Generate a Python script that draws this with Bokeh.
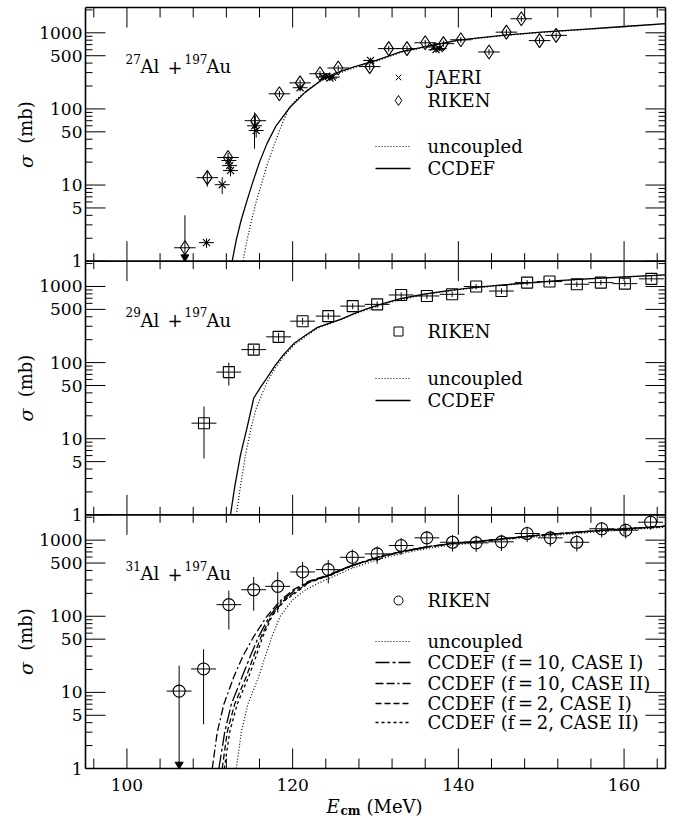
import math
from bokeh.plotting import figure
from bokeh.models import Range1d, LogAxis, LinearAxis, FixedTicker, Label, LogScale
from bokeh.embed import file_html
from bokeh.resources import INLINE

# ---------------- axes / ticks ----------------
e_min, e_max = 95, 165
sig_min, sig_max = 1, 2150
x_major = [100, 120, 140, 160]
x_minor = [96, 104, 108, 112, 116, 124, 128, 132, 136, 144, 148, 152, 156, 164]
y_major = [1, 5, 10, 50, 100, 500, 1000]
y_labels = ["1", "5", "10", "50", "100", "500", "1000"]
y_minor = [2, 3, 4, 6, 7, 8, 9, 20, 30, 40, 60, 70, 80, 90,
           200, 300, 400, 600, 700, 800, 900, 2000]

# ---------------- panel 1 : 27Al + 197Au ----------------
p1_jaeri_e = [109.6, 111.5, 112.3, 112.4, 112.5, 115.4, 115.6, 120.9, 123.7, 124.1, 124.5, 124.8, 129.4, 137.0, 137.3, 137.7]
p1_jaeri_s = [1.75, 10.1, 21, 18, 15.5, 60, 52, 190, 262, 270, 255, 262, 433, 650, 600, 620]
p1_jaeri_ds = [0.25, 2.5, 3, 3, 2.5, 30, 10, 20, 20, 20, 20, 20, 40, 50, 50, 50]
p1_jaeri_de = [0.9] * 16

p1_riken_e = [107.0, 109.7, 112.2, 115.5, 118.4, 120.9, 123.3, 125.5, 129.3, 131.6, 133.8, 136.0, 138.2, 140.3, 143.7, 145.8, 147.6, 149.8, 151.8]
p1_riken_s = [1.5, 12.5, 23, 70, 158, 220, 290, 345, 360, 620, 620, 740, 720, 810, 560, 1020, 1530, 790, 925]
p1_riken_ds = [2.5, 3.0, 3.5, 12, 15, 22, 25, 30, 35, 55, 55, 65, 65, 70, 50, 90, 130, 70, 80]
p1_riken_de = [1.3] * 19
p1_riken_lim = [True] + [False] * 18

p1_unc_e = [114.0, 114.5, 115.0, 115.5, 116.2, 116.9, 117.6, 118.5, 119.5, 120.5, 122.0, 123.5, 125.0, 127.5, 130.0, 133.0, 136.6, 140.0, 145.0, 150.0, 155.0, 160.0, 165.0]
p1_unc_s = [1.0, 1.9, 3.3, 5.5, 10, 18, 30, 55, 100, 135, 185, 235, 280, 350, 420, 550, 670, 790, 910, 1010, 1100, 1200, 1310]
p1_cc_e = [112.7, 113.2, 113.8, 114.5, 115.2, 116.0, 116.9, 118.0, 119.7, 121.5, 123.4, 125.0, 127.5, 130.0, 133.0, 136.6, 140.0, 145.0, 150.0, 155.0, 160.0, 165.0]
p1_cc_s = [1.0, 1.9, 3.5, 6.3, 11, 20, 35, 60, 106, 165, 237, 290, 360, 430, 560, 680, 800, 920, 1020, 1110, 1210, 1320]

# ---------------- panel 2 : 29Al + 197Au ----------------
p2_riken_e = [109.3, 112.3, 115.3, 118.3, 121.2, 124.3, 127.25, 130.2, 133.1, 136.2, 139.25, 142.15, 145.2, 148.3, 151.0, 154.3, 157.2, 160.1, 163.3]
p2_riken_s = [16, 75, 148, 218, 350, 408, 552, 582, 773, 750, 789, 997, 871, 1124, 1161, 1070, 1124, 1090, 1260]
p2_riken_ds = [10.5, 25, 20, 28, 35, 40, 50, 55, 65, 65, 65, 80, 75, 90, 95, 90, 90, 90, 105]
p2_riken_de = [1.5] * 19

p2_unc_e = [113.2, 113.6, 114.3, 115.0, 115.6, 116.1, 116.9, 117.9, 118.9, 120.2, 121.7, 123.0, 124.55, 127.4, 131.0, 136.0, 141.5, 148.7, 156.0, 164.8]
p2_unc_s = [1.0, 2.0, 6.1, 14, 25, 34, 55, 85, 120, 172, 226, 282, 326, 432, 590, 790, 950, 1110, 1260, 1410]
p2_cc_e = [112.5, 113.0, 113.7, 114.5, 115.3, 116.1, 116.9, 117.9, 118.9, 120.2, 121.7, 123.0, 124.55, 125.8, 127.4, 129.0, 131.0, 133.0, 136.0, 139.0, 141.5, 145.0, 148.7, 152.0, 156.0, 160.0, 165.0]
p2_cc_s = [1.0, 2.3, 6.1, 14, 34, 47, 63, 92, 127, 180, 234, 290, 333, 369, 440, 510, 600, 690, 800, 890, 960, 1040, 1120, 1190, 1270, 1340, 1420]

# ---------------- panel 3 : 31Al + 197Au ----------------
p3_riken_e = [106.3, 109.25, 112.3, 115.3, 118.2, 121.2, 124.3, 127.2, 130.2, 133.1, 136.2, 139.3, 142.15, 145.2, 148.3, 151.1, 154.3, 157.3, 160.2, 163.2]
p3_riken_s = [10.4, 20.3, 142, 223, 247, 382, 410, 595, 660, 850, 1072, 938, 921, 950, 1222, 1072, 938, 1410, 1350, 1720]
p3_riken_ds = [12, 16.5, 75, 105, 135, 135, 140, 160, 170, 210, 250, 230, 220, 230, 280, 250, 230, 320, 300, 350]
p3_riken_de = [1.5] * 20
p3_riken_lim = [True] + [False] * 19

p3_unc_e = [113.2, 113.8, 114.6, 115.9, 116.7, 117.5, 118.5, 120.0, 121.5, 123.0, 124.55, 127.0, 130.6, 133.5, 136.6, 139.5, 142.7, 146.0, 150.0, 155.0, 160.0, 165.0]
p3_unc_s = [1.0, 3.0, 7.0, 16, 30, 54, 100, 165, 220, 270, 320, 420, 570, 680, 790, 870, 930, 1020, 1120, 1240, 1360, 1480]
p3_f10a_e = [111.1, 111.8, 112.6, 113.9, 114.9, 115.9, 117.2, 118.7, 120.3, 122.0, 124.55, 127.0, 130.6, 133.5, 136.6, 139.5, 142.7, 146.0, 150.0, 155.0, 160.0, 165.0]
p3_f10a_s = [1.0, 3.0, 7.0, 16, 30, 54, 100, 160, 222, 285, 352, 460, 610, 720, 830, 910, 970, 1060, 1170, 1290, 1410, 1525]
p3_f10b_e = [110.3, 110.9, 111.7, 112.9, 114.0, 115.3, 116.9, 118.5, 120.1, 122.0, 124.55, 127.0, 130.6, 133.5, 136.6, 139.5, 142.7, 146.0, 150.0, 155.0, 160.0, 165.0]
p3_f10b_s = [1.0, 3.0, 7.0, 16, 30, 54, 100, 160, 224, 290, 356, 462, 612, 722, 832, 912, 972, 1062, 1172, 1292, 1412, 1527]
p3_f2a_e = [111.5, 112.1, 113.0, 114.4, 115.3, 116.2, 117.4, 118.9, 120.5, 122.0, 124.55, 127.0, 130.6, 133.5, 136.6, 139.5, 142.7, 146.0, 150.0, 155.0, 160.0, 165.0]
p3_f2a_s = [1.0, 3.0, 7.0, 16, 30, 54, 100, 160, 215, 280, 348, 455, 605, 715, 825, 905, 965, 1055, 1165, 1285, 1405, 1520]
p3_f2b_e = [111.75, 112.4, 113.3, 114.7, 115.6, 116.4, 117.5, 119.0, 120.6, 122.0, 124.55, 127.0, 130.6, 133.5, 136.6, 139.5, 142.7, 146.0, 150.0, 155.0, 160.0, 165.0]
p3_f2b_s = [1.0, 3.0, 7.0, 16, 30, 54, 100, 160, 212, 278, 345, 452, 602, 712, 822, 902, 962, 1052, 1162, 1282, 1402, 1517]

# ---------------- layout ----------------
FONT = "DejaVu Serif"
F = float(sig_max)
LOGF = math.log10(F)
W, H = 679, 825
FL, FR, FT, FB = 85, 665, 7, 768   # data box in page pixels


def xd(px):
    return e_min + (px - FL) * (e_max - e_min) / (FR - FL)


def yd(py):
    return 10 ** ((FB - py) * 3 * LOGF / (FB - FT))


def dx(npx):          # npx pixels along x, in MeV
    return npx * (e_max - e_min) / (FR - FL)


def ry(npx):          # npx pixels along y, as a factor on the log scale
    return 10 ** (npx * 3 * LOGF / (FB - FT))


p = figure(width=W, height=H, x_range=Range1d(xd(0), xd(W)), y_range=Range1d(yd(H), yd(0)),
           y_axis_type="log", x_axis_location=None, y_axis_location=None,
           output_backend="svg", toolbar_location=None, min_border=0, outline_line_color=None)
p.extra_y_ranges = {"p1": Range1d(yd(H) / F ** 2, yd(0) / F ** 2), "p2": Range1d(yd(H) / F, yd(0) / F)}
p.extra_y_scales = {"p1": LogScale(), "p2": LogScale()}
p.xgrid.visible = False
p.ygrid.visible = False

facs = [1.0, F, F ** 2]                 # panel 3, 2, 1 on the shared log scale
yt = [float(v) * f for f in facs for v in y_major]
ym = [float(v) * f for f in facs for v in y_minor]
yover = {float(v) * f: lab for f in facs for v, lab in zip(y_major, y_labels)}
xt = [float(v) for v in x_major]
xm = [float(v) for v in x_minor]


def label_axis(ax, standoff):
    ax.axis_line_color = None
    ax.major_tick_in = 0
    ax.major_tick_out = 0
    ax.minor_tick_in = 0
    ax.minor_tick_out = 0
    ax.major_label_text_font = FONT
    ax.major_label_text_font_size = "17px"
    ax.major_label_text_color = "black"
    ax.major_label_standoff = standoff


yl = LogAxis(ticker=FixedTicker(ticks=list(yt)), fixed_location=e_min, bounds=(sig_min, F ** 3),
             major_label_overrides=yover)
label_axis(yl, 3)
p.add_layout(yl, "left")

xb = LinearAxis(ticker=FixedTicker(ticks=list(xt)), fixed_location=sig_min, bounds=(e_min, e_max))
label_axis(xb, 10)
p.add_layout(xb, "below")

# ---------------- frame box, panel boundaries, inward ticks ----------------
box_y = [float(sig_min), F, F ** 2, F ** 3]
p.segment(x0=[float(e_min)] * 4, x1=[float(e_max)] * 4, y0=box_y, y1=box_y,
          line_color="black", line_width=1.6)
p.segment(x0=[float(e_min), float(e_max)], x1=[float(e_min), float(e_max)], y0=[float(sig_min)] * 2,
          y1=[F ** 3] * 2, line_color="black", line_width=1.6)


def ticks(xs, ys, length, angle):
    p.ray(x=list(xs), y=list(ys), length=length, length_units="screen", angle=angle,
          line_color="black", line_width=1)


ticks([float(e_min)] * len(yt), yt, 20, 0.0)
ticks([float(e_min)] * len(ym), ym, 7, 0.0)
ticks([float(e_max)] * len(yt), yt, 20, math.pi)
ticks([float(e_max)] * len(ym), ym, 7, math.pi)
ticks(xt, [float(sig_min)] * len(xt), 20, math.pi / 2)
ticks(xm, [float(sig_min)] * len(xm), 10, math.pi / 2)
ticks(xt, [F ** 3] * len(xt), 20, -math.pi / 2)
ticks(xm, [F ** 3] * len(xm), 10, -math.pi / 2)
for loc in [F, F ** 2]:
    ticks(xt, [loc] * len(xt), 20, math.pi / 2)
    ticks(xt, [loc] * len(xt), 20, -math.pi / 2)
    ticks(xm, [loc] * len(xm), 8, math.pi / 2)
    ticks(xm, [loc] * len(xm), 8, -math.pi / 2)


# ---------------- drawing helpers ----------------
def errbars(e, s, ds, de, rname, lim=None):
    lo = [max(si - di, sig_min) for si, di in zip(s, ds)]
    hi = [si + di for si, di in zip(s, ds)]
    p.segment(x0=[ei - d for ei, d in zip(e, de)], x1=[ei + d for ei, d in zip(e, de)], y0=list(s), y1=list(s),
              y_range_name=rname, line_color="black", line_width=1)
    p.segment(x0=list(e), x1=list(e), y0=lo, y1=hi, y_range_name=rname, line_color="black", line_width=1)
    if lim is not None:
        le = [ei for ei, f in zip(e, lim) if f]
        if le:
            # arrow head of an upper limit, resting on the panel floor
            p.scatter(le, [sig_min * ry(4)] * len(le), marker="inverted_triangle", size=8,
                      fill_color="black", line_color="black", y_range_name=rname)


def curve(e, s, rname, dash="solid", width=1.3):
    p.line(e, s, y_range_name=rname, line_color="black", line_width=width, line_dash=dash)


DASH = {"unc": "1 2", "cc": "solid", "f10a": "14 3 3 3", "f10b": "8 3 8 3 2 3",
        "f2a": "6 3", "f2b": "3 3"}

# panel 1
curve(p1_unc_e, p1_unc_s, "p1", DASH["unc"], 1.2)
curve(p1_cc_e, p1_cc_s, "p1")
errbars(p1_jaeri_e, p1_jaeri_s, p1_jaeri_ds, p1_jaeri_de, "p1")
p.scatter(p1_jaeri_e, p1_jaeri_s, marker="x", size=10, line_color="black", line_width=1.1, y_range_name="p1")
errbars(p1_riken_e, p1_riken_s, p1_riken_ds, p1_riken_de, "p1", p1_riken_lim)
p.scatter(p1_riken_e, p1_riken_s, marker="diamond", size=14, fill_color=None, line_color="black",
          line_width=1.1, y_range_name="p1")

# panel 2
curve(p2_unc_e, p2_unc_s, "p2", DASH["unc"], 1.2)
curve(p2_cc_e, p2_cc_s, "p2")
errbars(p2_riken_e, p2_riken_s, p2_riken_ds, p2_riken_de, "p2")
p.scatter(p2_riken_e, p2_riken_s, marker="square", size=11, fill_color=None, line_color="black",
          line_width=1.1, y_range_name="p2")

# panel 3
curve(p3_unc_e, p3_unc_s, "default", DASH["unc"], 1.2)
curve(p3_f10a_e, p3_f10a_s, "default", DASH["f10a"])
curve(p3_f10b_e, p3_f10b_s, "default", DASH["f10b"])
curve(p3_f2a_e, p3_f2a_s, "default", DASH["f2a"])
curve(p3_f2b_e, p3_f2b_s, "default", DASH["f2b"])
errbars(p3_riken_e, p3_riken_s, p3_riken_ds, p3_riken_de, "default", p3_riken_lim)
p.scatter(p3_riken_e, p3_riken_s, marker="circle", size=12, fill_color=None, line_color="black",
          line_width=1.1, y_range_name="default")


# ---------------- texts ----------------
def text(px, py, t, size="18px", style="normal", align="left", baseline="alphabetic", angle=0.0):
    p.add_layout(Label(x=xd(px), y=yd(py), text=t, text_font=FONT, text_font_size=size,
                       text_font_style=style, text_align=align, text_baseline=baseline,
                       text_color="black", angle=angle))


panel_dy = [0, 253.5, 507]
titles = [("27", "197"), ("29", "197"), ("31", "197")]
for dy, (a, b) in zip(panel_dy, titles):
    text(125, 58 + dy, a, "12px")
    text(140, 66 + dy, "Al")
    text(167, 66 + dy, "+")
    text(184, 58 + dy, b, "12px")
    text(206, 66 + dy, "Au")
    text(25, 161 + dy, "\u03c3", "19px", "italic", "center", "middle", math.pi / 2)
    text(25, 122 + dy, "(mb)", "18px", "normal", "center", "middle", math.pi / 2)

# x axis title
text(326, 806, "E", "18px", "italic")
text(340, 810, "cm", "12px", "bold")
text(366, 806, "(MeV)", "18px")

# legends
LX_M, LX0, LX1, LX_T = 398, 375, 410, 427


def leg_marker(py, marker, size, t):
    p.scatter([xd(LX_M)], [yd(py)], marker=marker, size=size, fill_color=None, line_color="black", line_width=1)
    text(LX_T, py, t, baseline="middle")


def leg_line(py, dash, t, width=1.3):
    p.line([xd(LX0), xd(LX1)], [yd(py), yd(py)], line_color="black", line_width=width, line_dash=dash)
    text(LX_T, py, t, baseline="middle")


leg_marker(77, "x", 8, "JAERI")
leg_marker(100, "diamond", 10, "RIKEN")
leg_line(146, DASH["unc"], "uncoupled", 1.2)
leg_line(168, DASH["cc"], "CCDEF")

leg_marker(331, "square", 9, "RIKEN")
leg_line(378, DASH["unc"], "uncoupled", 1.2)
leg_line(400, DASH["cc"], "CCDEF")

leg_marker(600, "circle", 9, "RIKEN")
leg_line(641, DASH["unc"], "uncoupled", 1.2)
leg_line(662, DASH["f10a"], "CCDEF (f\u2009=\u200910, CASE I)")
leg_line(683, DASH["f10b"], "CCDEF (f\u2009=\u200910, CASE II)")
leg_line(703, DASH["f2a"], "CCDEF (f\u2009=\u20092, CASE I)")
leg_line(722, DASH["f2b"], "CCDEF (f\u2009=\u20092, CASE II)")

open("out.html", "w").write(file_html(p, INLINE))
